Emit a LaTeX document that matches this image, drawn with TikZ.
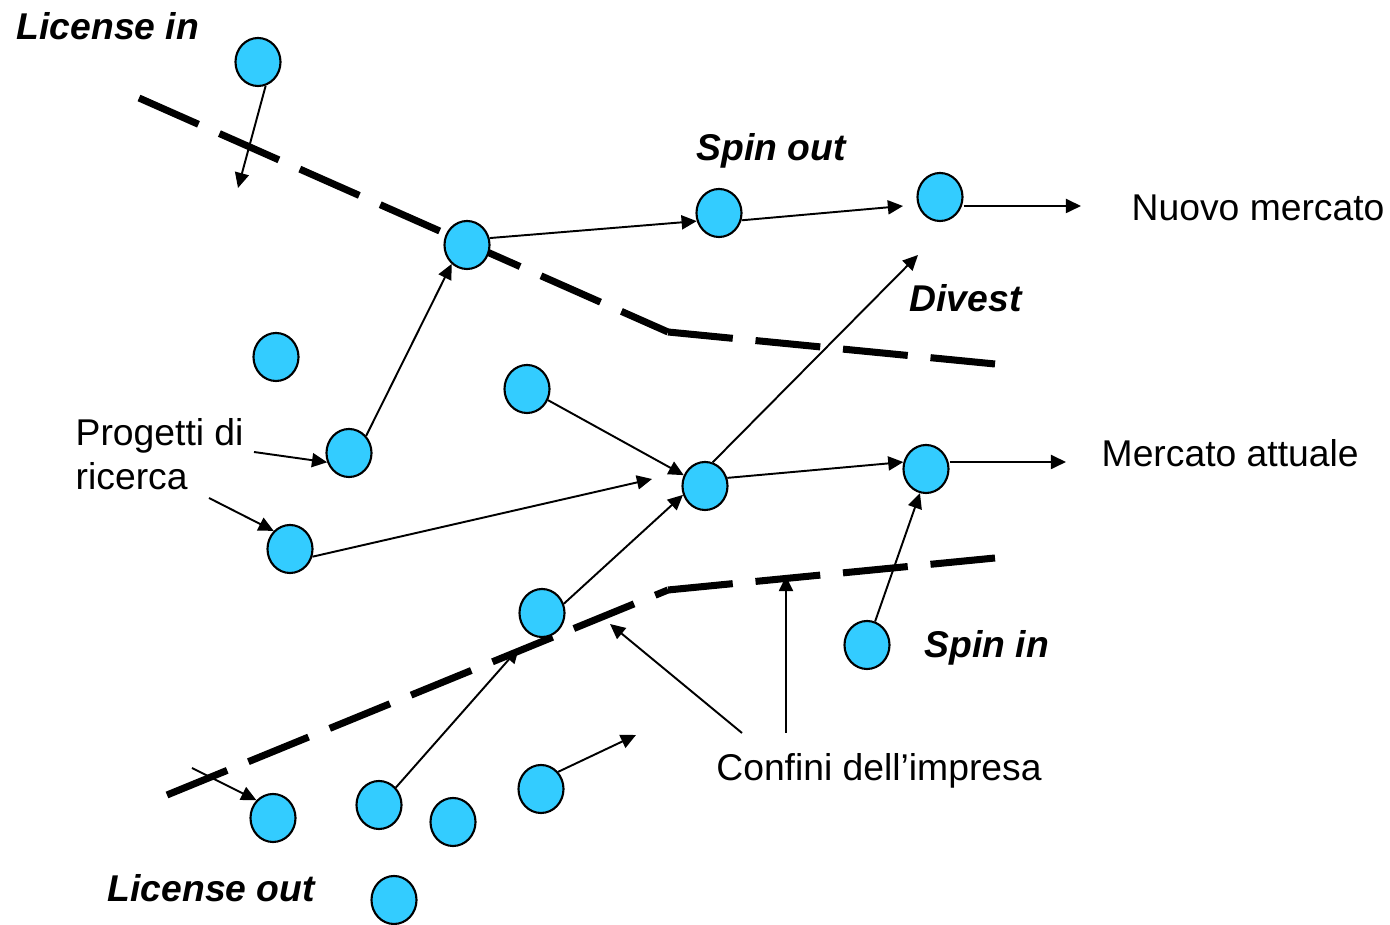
\documentclass[tikz,border=0pt]{standalone}
\usepackage{fontspec}
\setmainfont{Liberation Sans}
\usetikzlibrary{arrows.meta,shapes.geometric}
\definecolor{bubblecyan}{HTML}{33CCFF}

\begin{document}
\begin{tikzpicture}[x=0.01cm,y=-0.01cm,
    bubble/.style={ellipse, draw, line width=0.6pt, fill=bubblecyan,
      minimum width=0.45cm, minimum height=0.48cm, inner sep=0pt},
    flow/.style={-{Triangle[length=4.3pt,width=4pt]}, line width=0.55pt},
    boundary/.style={line width=2pt, dash pattern=on 18.5pt off 6.5pt},
    tag/.style={inner sep=0pt, font=\fontsize{10.6}{12.6}\selectfont\bfseries\itshape},
    plain/.style={inner sep=0pt, font=\fontsize{10.6}{12.6}\selectfont, align=left}]
            \useasboundingbox (0,0) rectangle (1390,925);

            % Boundaries of the firm
            \coordinate (upbend) at (668,332);
            \coordinate (lowbend) at (668,590);
            \draw[boundary] (139,98) -- (upbend);
            \draw[boundary] (upbend) -- (995,364);
            \draw[boundary] (167,795) -- (lowbend);
            \draw[boundary] (lowbend) -- (995,558);

            % Projects
            \node[bubble] (lin) at (258,62) {};
            \node[bubble] (edge) at (467,245) {};
            \node[bubble] (spo) at (719,213) {};
            \node[bubble] (newm) at (940,197) {};
            \node[bubble] (idle) at (276,357) {};
            \node[bubble] (pr1) at (349,453) {};
            \node[bubble] (pr0) at (527,389) {};
            \node[bubble] (hub) at (705,486) {};
            \node[bubble] (curm) at (926,469) {};
            \node[bubble] (pr2) at (290,549) {};
            \node[bubble] (cross) at (542,613) {};
            \node[bubble] (spi) at (867,645) {};
            \node[bubble] (lo1) at (273,818) {};
            \node[bubble] (lo2) at (379,805) {};
            \node[bubble] (lo3) at (453,822) {};
            \node[bubble] (lo4) at (541,789) {};
            \node[bubble] (lo5) at (394,900) {};

            % Free ends
            \coordinate (linend) at (238,188);
            \coordinate (spoend) at (903,206);
            \coordinate (newend) at (1081,206);
            \coordinate (curend) at (1066,462);
            \coordinate (divend) at (918,255);
            \coordinate (pr2end) at (652,479);
            \coordinate (lo2end) at (519,648);
            \coordinate (lo4end) at (636,735);
            \coordinate (louts) at (192,768);
            \coordinate (prs1) at (254,452);
            \coordinate (prs2) at (209,498);
            \coordinate (cf1) at (742,733);
            \coordinate (cf2) at (786,733);
            \coordinate (cfend1) at (610,624);
            \coordinate (cfend2) at (786,576);

            % Labels
            \node[tag, anchor=west] (licin) at (16,26) {License in};
            \node[tag] (spinout) at (771,151) {Spin out};
            \node[plain, anchor=west] (nuovo) at (1131,208) {Nuovo mercato};
            \node[tag, anchor=west] (divest) at (909,298) {Divest};
            \node[plain, anchor=west] (progetti) at (75,454) {Progetti di\\ricerca};
            \node[plain, anchor=west] (attuale) at (1101,453) {Mercato attuale};
            \node[tag, anchor=west] (spinin) at (924,648) {Spin in};
            \node[plain] (confini) at (879,771) {Confini dell’impresa};
            \node[tag, anchor=west] (licout) at (107,888) {License out};

            % Flows
            \draw[flow] (lin.288) -- (linend);
            \draw[flow] (edge.17) -- (spo.200);
            \draw[flow] (spo.342) -- (spoend);
            \draw[flow] (newm.east |- newend) -- (newend);
            \draw[flow] (pr1.45) -- (edge.231);
            \draw[flow] (pr0.332) -- (hub.153);
            \draw[flow] (pr2.341) -- (pr2end);
            \draw[flow] (hub.20) -- (curm.163);
            \draw[flow] (hub.72) -- (divend);
            \draw[flow] (curm.east |- curend) -- (curend);
            \draw[flow] (cross.23) -- (hub.202);
            \draw[flow] (spi.71) -- (curm.256);
            \draw[flow] (lo2.46) -- (lo2end);
            \draw[flow] (lo4.45) -- (lo4end);
            \draw[flow] (louts) -- (lo1.133);

            % Pointers from the labels
            \draw[flow] (prs1) -- (pr1.203);
            \draw[flow] (prs2) -- (pr2.132);
            \draw[flow] (cf1) -- (cfend1);
            \draw[flow] (cf2) -- (cfend2);
\end{tikzpicture}
\end{document}
